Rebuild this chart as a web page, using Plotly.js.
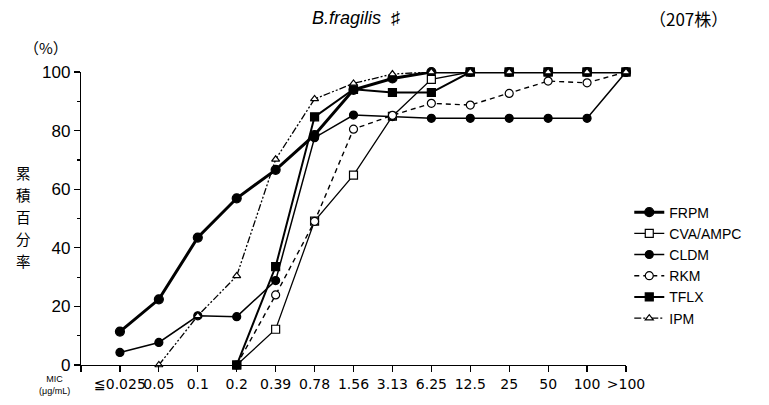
<!DOCTYPE html>
<html><head><meta charset="utf-8">
<script src="https://cdn.plot.ly/plotly-3.0.1.min.js"></script>
<style>html,body{margin:0;padding:0;background:#fff}#chart{width:769px;height:405px}</style>
</head><body><div id="chart"></div>
<script>
const categories = ['≦0.025','0.05','0.1','0.2','0.39','0.78','1.56','3.13','6.25','12.5','25','50','100','>100'];
const FRPM = [11.4, 22.4, 43.5, 56.9, 66.6, 78.5, 93.9, 97.8, 100, 100, 100, 100, 100, 100];
const CVA_AMPC = [null, null, null, 0, 12.2, 49.1, 64.8, 84.9, 97.5, 100, 100, 100, 100, 100];
const CLDM = [4.3, 7.7, 16.8, 16.5, 28.8, 77.6, 85.3, 84.8, 84.2, 84.2, 84.2, 84.2, 84.2, 100];
const RKM = [null, null, null, 0, 23.9, 49.0, 80.5, 85.2, 89.3, 88.7, 92.7, 96.9, 96.3, 100];
const TFLX = [null, null, null, 0, 33.6, 84.7, 94.1, 93.0, 93.0, 100, 100, 100, 100, 100];
const IPM = [null, 0, 16.8, 30.4, 70.2, 90.8, 96.1, 99.3, 100, 100, 100, 100, 100, 100];
const yLabelChars = ['累', '積', '百', '分', '率'];

const xs = categories.map((c, i) => i);
function tr(name, y, lw, dash, sym, msize, open) {
  return {x: xs, y: y, name: name, type: 'scatter', mode: 'lines+markers', connectgaps: false,
    cliponaxis: false,
    line: {color: '#000', width: lw, dash: dash},
    marker: {symbol: sym, size: msize, color: open ? '#fff' : '#000',
             line: {color: '#000', width: 1.2}}};
}
const data = [
  tr('FRPM', FRPM, 3, 'solid', 'circle', 9, false),
  tr('CVA/AMPC', CVA_AMPC, 1.3, 'solid', 'square', 8, true),
  tr('CLDM', CLDM, 1.5, 'solid', 'circle', 8, false),
  tr('RKM', RKM, 1.4, '5px,4px', 'circle', 8, true),
  tr('TFLX', TFLX, 2, 'solid', 'square', 8, false),
  tr('IPM', IPM, 1.3, '7px,2px,2px,2px,2px,2px', 'triangle-up', 7, true)
];

const sans = 'Liberation Sans, Arial, sans-serif';
const narrow = 'Liberation Sans Narrow, DejaVu Sans, sans-serif';
const annotations = [
  {text: '<i>B.fragilis</i>  ♯', xref: 'paper', yref: 'paper', x: 0.505, y: 1, yshift: 54, xanchor: 'center', yanchor: 'middle',
   showarrow: false, font: {family: sans, size: 18, color: '#000'}},
  {text: '（207株）', xref: 'paper', yref: 'paper', x: 1.114, y: 1, yshift: 54, xanchor: 'center', yanchor: 'middle',
   showarrow: false, font: {family: 'Noto Sans CJK JP, sans-serif', size: 17, color: '#000'}},
  {text: '（%）', xref: 'paper', yref: 'paper', x: 0, xshift: -35, y: 1, yshift: 25, xanchor: 'center', yanchor: 'middle',
   showarrow: false, font: {family: 'Noto Sans CJK JP, sans-serif', size: 15, color: '#000'}},
  {text: 'MIC<br>(μg/mL)', xref: 'paper', yref: 'paper', x: 0, xshift: -27, y: 0, yshift: -20, xanchor: 'center', yanchor: 'middle',
   showarrow: false, font: {family: sans, size: 9, color: '#000'}}
];
yLabelChars.forEach((ch, i) => {
  annotations.push({text: ch, xref: 'paper', yref: 'paper', x: 0, xshift: -58, y: 0.5, yshift: 46 - i * 22,
    xanchor: 'center', yanchor: 'middle', showarrow: false,
    font: {family: 'Noto Sans CJK JP, sans-serif', size: 14.5, color: '#000'}});
});

const layout = {
  width: 769, height: 405,
  margin: {l: 81, r: 143, t: 72, b: 40},
  paper_bgcolor: '#fff', plot_bgcolor: '#fff',
  showlegend: true,
  legend: {x: 1.006, xanchor: 'left', y: 0.575, yanchor: 'top', font: {family: sans, size: 14, color: '#000'},
           bgcolor: 'rgba(0,0,0,0)', itemwidth: 30, tracegroupgap: 0},
  xaxis: {range: [-1, 13], tickmode: 'array', tickvals: [-1].concat(xs), ticktext: [''].concat(categories),
          tickangle: 0,
          showgrid: false, zeroline: false, showline: true, linecolor: '#000', linewidth: 1.2,
          ticks: 'outside', ticklen: 6, tickcolor: '#000', tickwidth: 1.2,
          tickfont: {family: narrow, stretch: 'condensed', size: 14, color: '#000'}, fixedrange: true},
  yaxis: {range: [0, 100], tickmode: 'array', tickvals: [0, 20, 40, 60, 80, 100],
          showgrid: false, zeroline: false, showline: true, linecolor: '#000', linewidth: 1.2,
          ticks: 'outside', ticklen: 6, tickcolor: '#000', tickwidth: 1.2,
          minor: {tickvals: [10, 30, 50, 70, 90], ticks: 'outside', ticklen: 3, tickcolor: '#000', tickwidth: 1.2},
          tickfont: {family: sans, size: 17, color: '#000'}, fixedrange: true},
  annotations: annotations
};
Plotly.newPlot('chart', data, layout, {displayModeBar: false, staticPlot: true});
</script></body></html>
